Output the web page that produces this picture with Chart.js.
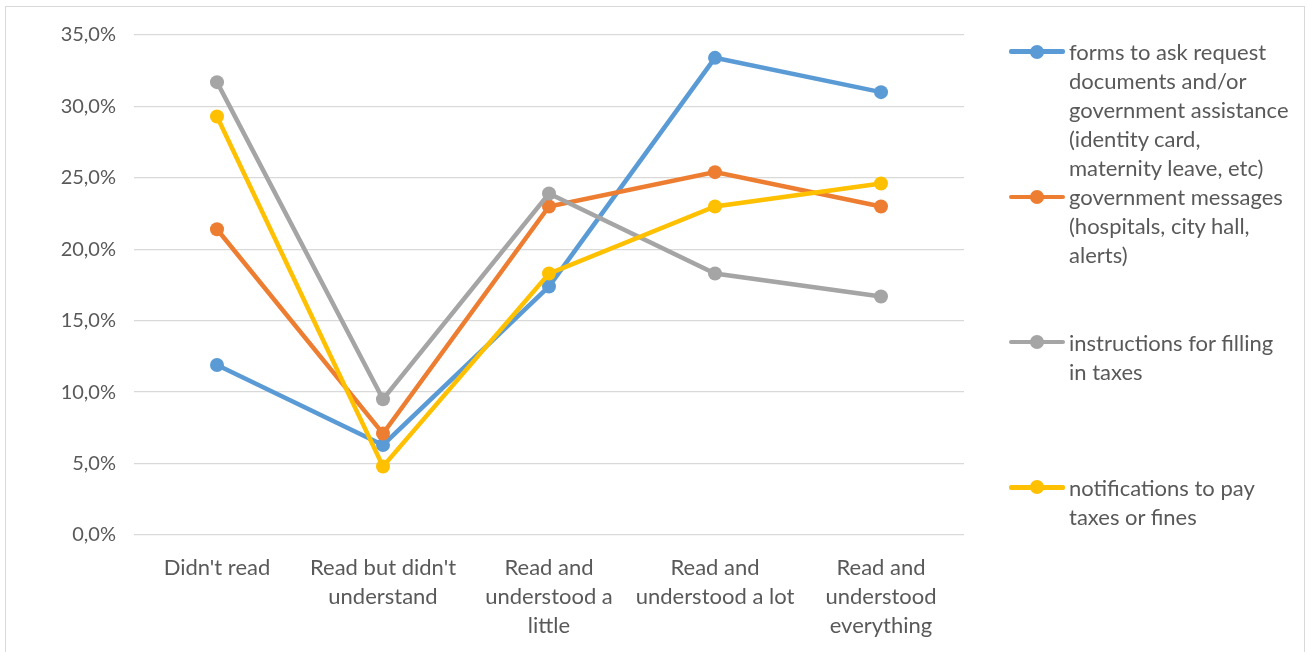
<!DOCTYPE html>
<html>
<head>
<meta charset="utf-8">
<script src="https://cdn.jsdelivr.net/npm/chart.js@4.4.1/dist/chart.umd.min.js"></script>
<style>
  html, body { margin: 0; padding: 0; background: #fff; }
  body { width: 1307px; height: 652px; position: relative; overflow: hidden; font-family: Lato, 'Open Sans', sans-serif; }
  #frame { position: absolute; left: 5px; top: 6px; width: 1298px; height: 660px; border: 1px solid #d9d9d9; pointer-events: none; }
  #chart { position: absolute; left: 0; top: 0; }
  #legend { position: absolute; left: 1009px; top: 37px; }
  .item { position: relative; height: 145.3px; }
  .swatch { position: absolute; left: 0; top: 12.3px; width: 56px; height: 4.5px; border-radius: 2px; }
  .dot { position: absolute; left: 21px; top: -4.8px; width: 14px; height: 14px; border-radius: 50%; }
  .text { position: absolute; left: 60px; top: 0; font-size: 22px; line-height: 29px; color: #595959; white-space: nowrap; }
</style>
</head>
<body>
<canvas id="chart" width="1307" height="652"></canvas>
<div id="frame"></div>
<div id="legend"></div>
<script>
const categories = [
  "Didn't read",
  ["Read but didn't", 'understand'],
  ['Read and', 'understood a', 'little'],
  ['Read and', 'understood a lot'],
  ['Read and', 'understood', 'everything']
];

const seriesLabels = [
  ['forms to ask request', 'documents and/or', 'government assistance', '(identity card,', 'maternity leave, etc)'],
  ['government messages', '(hospitals, city hall,', 'alerts)'],
  ['instructions for filling', 'in taxes'],
  ['notifications to pay', 'taxes or fines']
];

const formsValues = [11.9, 6.3, 17.4, 33.4, 31.0];
const messagesValues = [21.4, 7.1, 23.0, 25.4, 23.0];
const taxInstructionsValues = [31.7, 9.5, 23.9, 18.3, 16.7];
const notificationsValues = [29.3, 4.8, 18.3, 23.0, 24.6];

const yTickLabels = ['0,0%', '5,0%', '10,0%', '15,0%', '20,0%', '25,0%', '30,0%', '35,0%'];

const colors = ['#5B9BD5', '#ED7D31', '#A5A5A5', '#FFC000'];
const allValues = [formsValues, messagesValues, taxInstructionsValues, notificationsValues];
const fontFamily = "Lato, 'Open Sans', sans-serif";

const datasets = allValues.map((values, i) => ({
  label: seriesLabels[i].join(' '),
  data: values,
  borderColor: colors[i],
  backgroundColor: colors[i],
  pointBackgroundColor: colors[i],
  borderWidth: 4.5,
  pointRadius: 7,
  pointBorderWidth: 0,
  tension: 0,
  order: allValues.length - i
}));

new Chart(document.getElementById('chart'), {
  type: 'line',
  data: { labels: categories, datasets },
  options: {
    responsive: false,
    animation: false,
    layout: { padding: { left: 0, right: 343, top: 35, bottom: 0 } },
    plugins: { legend: { display: false }, tooltip: { enabled: false } },
    scales: {
      x: {
        offset: true,
        grid: { display: false },
        border: { display: false },
        ticks: {
          color: '#595959',
          font: { family: fontFamily, size: 22, lineHeight: 29 / 22 },
          maxRotation: 0,
          autoSkip: false,
          padding: 10
        },
        afterFit: (scale) => { scale.height = 117; }
      },
      y: {
        min: 0,
        max: 35,
        border: { display: false },
        grid: { color: '#d9d9d9', lineWidth: 1.3, drawTicks: false },
        ticks: {
          stepSize: 5,
          color: '#595959',
          font: { family: fontFamily, size: 20 },
          padding: 18,
          callback: (value, index) => yTickLabels[index]
        },
        afterFit: (scale) => { scale.width = 134; }
      }
    }
  }
});

const legend = document.getElementById('legend');
seriesLabels.forEach((lines, i) => {
  const item = document.createElement('div');
  item.className = 'item';
  item.innerHTML = `
    <div class="swatch" style="background:${colors[i]}"><div class="dot" style="background:${colors[i]}"></div></div>
    <div class="text">${lines.join('<br>')}</div>
  `;
  legend.appendChild(item);
});
</script>
</body>
</html>
